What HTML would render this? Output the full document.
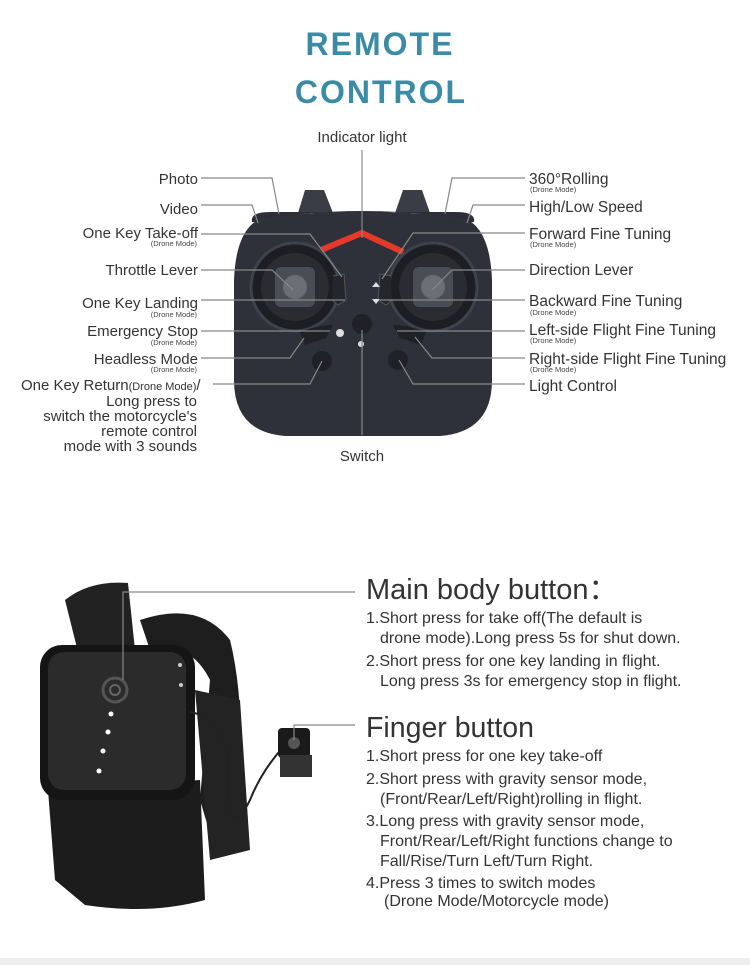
<!DOCTYPE html>
<html><head><meta charset="utf-8"><style>
html,body{margin:0;padding:0;background:#fff;}
svg{display:block;font-family:"Liberation Sans",Arial,sans-serif;}
</style></head><body>
<svg width="750" height="965" viewBox="0 0 750 965" xmlns="http://www.w3.org/2000/svg">
<rect width="750" height="965" fill="#fff"/>
<text x="380" y="55" text-anchor="middle" font-size="32" font-weight="bold" fill="#3b8ba6" letter-spacing="2">REMOTE</text>
<text x="381" y="103" text-anchor="middle" font-size="32" font-weight="bold" fill="#3b8ba6" letter-spacing="2">CONTROL</text>

<path d="M298 213 L305 190 L324 190 L333 213 Z" fill="#3a3d45"/>
<path d="M395 213 L403 190 L422 190 L430 213 Z" fill="#3a3d45"/>
<path d="M270 212 Q250 212 252 222 L259 222 Q300 211 362 211 Q425 211 466 222 L474 222 Q476 212 456 212 Z" fill="#2c2f36"/>
<path d="M262 218 Q362 205 464 218 Q490 228 492 280 L492 380 Q492 432 440 436 L285 436 Q234 432 234 380 L234 280 Q236 228 262 218 Z" fill="#2e3139"/>
<path d="M321 250 L362 233 L403 252" fill="none" stroke="#e5392a" stroke-width="6"/>
<circle cx="295" cy="287" r="44" fill="#1c1e23" stroke="#3e424b" stroke-width="3"/>
<circle cx="295" cy="287" r="34" fill="#2a2c31"/>
<rect x="275" y="267" width="40" height="40" rx="6" fill="#4a4d54"/>
<circle cx="295" cy="287" r="12" fill="#6b6e75"/>
<circle cx="433" cy="287" r="44" fill="#1c1e23" stroke="#3e424b" stroke-width="3"/>
<circle cx="433" cy="287" r="34" fill="#2a2c31"/>
<rect x="413" y="267" width="40" height="40" rx="6" fill="#4a4d54"/>
<circle cx="433" cy="287" r="12" fill="#6b6e75"/>
<path d="M333 276 L344 274 L346 300 L338 305 L332 300" fill="#24262b" stroke="#555" stroke-width="1"/>
<path d="M391 276 L380 274 L378 300 L386 305 L392 300" fill="#24262b" stroke="#555" stroke-width="1"/>
<circle cx="362" cy="324" r="10" fill="#1f2126"/>
<circle cx="322" cy="361" r="10" fill="#1f2126"/>
<circle cx="398" cy="360" r="10" fill="#1f2126"/>
<path d="M300 332 Q318 325 333 325 L326 338 L305 345 Z" fill="#1f2126"/>
<path d="M426 332 Q408 325 393 325 L400 338 L421 345 Z" fill="#1f2126"/>
<circle cx="340" cy="333" r="4" fill="#ddd"/>
<circle cx="361" cy="344" r="3" fill="#ddd"/>
<path d="M372 287 l4 -5 l4 5z M372 299 l4 5 l4 -5z" fill="#ddd"/>

<g stroke="#888" stroke-width="1.2" fill="none">
<path d="M201 178 H272 L279 214"/>
<path d="M201 205 H252 L258 223"/>
<path d="M201 234 H310 L342 277"/>
<path d="M201 270 H272 L293 290"/>
<path d="M201 300 H345"/>
<path d="M201 331 H330"/>
<path d="M201 358 H290 L304 338"/>
<path d="M213 384 H310 L322 361"/>
<path d="M525 178 H452 L445 214"/>
<path d="M525 205 H473 L467 223"/>
<path d="M525 233 H413 L382 279"/>
<path d="M525 270 H452 L432 290"/>
<path d="M525 300 H380"/>
<path d="M525 331 H397"/>
<path d="M525 358 H432 L415 337"/>
<path d="M525 384 H413 L399 360"/>
<path d="M362 150 V238"/>
<path d="M362 330 V435"/>
</g>

<g font-size="15" fill="#333">
<text x="362" y="142" text-anchor="middle">Indicator light</text>
<text x="362" y="461" text-anchor="middle">Switch</text>
<g text-anchor="end">
<text x="198" y="184">Photo</text>
<text x="198" y="214">Video</text>
<text x="198" y="238">One Key Take-off</text>
<text x="198" y="275">Throttle Lever</text>
<text x="198" y="308">One Key Landing</text>
<text x="198" y="336">Emergency Stop</text>
<text x="198" y="364">Headless Mode</text>
<text x="197" y="406">Long press to</text>
<text x="197" y="421">switch the motorcycle's</text>
<text x="197" y="436">remote control</text>
<text x="197" y="451">mode with 3 sounds</text>
</g>
<text x="21" y="390">One Key Return<tspan font-size="11">(Drone Mode)</tspan>/</text>
<g font-size="15.5">
<text x="529" y="184">360°Rolling</text>
<text x="529" y="212">High/Low Speed</text>
<text x="529" y="239">Forward Fine Tuning</text>
<text x="529" y="275">Direction Lever</text>
<text x="529" y="306">Backward Fine Tuning</text>
<text x="529" y="335">Left-side Flight Fine Tuning</text>
<text x="529" y="364">Right-side Flight Fine Tuning</text>
<text x="529" y="391">Light Control</text>
</g>
</g>
<g font-size="7.5" fill="#444">
<text x="197" y="246" text-anchor="end">(Drone Mode)</text>
<text x="197" y="317" text-anchor="end">(Drone Mode)</text>
<text x="197" y="345" text-anchor="end">(Drone Mode)</text>
<text x="197" y="372" text-anchor="end">(Drone Mode)</text>
<text x="530" y="192">(Drone Mode)</text>
<text x="530" y="247">(Drone Mode)</text>
<text x="530" y="315">(Drone Mode)</text>
<text x="530" y="343">(Drone Mode)</text>
<text x="530" y="372">(Drone Mode)</text>
</g>

<path d="M140 620 Q200 600 230 640 Q245 700 240 800 L215 850 L200 800 L210 680 Q190 640 150 650 Z" fill="#1e1e1e"/>
<path d="M195 690 L240 700 L250 850 L210 860 Z" fill="#232323"/>
<path d="M65 600 Q90 580 128 583 L135 650 L80 660 Z" fill="#222"/>
<path d="M48 790 L200 780 L205 900 Q150 915 85 905 L55 880 Z" fill="#1c1c1c"/>
<rect x="40" y="645" width="155" height="155" rx="22" fill="#151515"/>
<rect x="48" y="652" width="138" height="138" rx="16" fill="#2b2b2b"/>
<circle cx="115" cy="690" r="12" fill="none" stroke="#555" stroke-width="3"/>
<circle cx="115" cy="690" r="5" fill="none" stroke="#666" stroke-width="2"/>
<g fill="#fff"><circle cx="111" cy="714" r="2.5"/><circle cx="108" cy="732" r="2.5"/><circle cx="103" cy="751" r="2.5"/><circle cx="99" cy="771" r="2.5"/></g>
<circle cx="180" cy="665" r="2" fill="#ccc"/><circle cx="181" cy="685" r="2" fill="#ccc"/>
<path d="M190 712 Q235 720 228 790 Q230 840 250 800 Q262 770 285 745" fill="none" stroke="#222" stroke-width="2"/>
<rect x="278" y="728" width="32" height="30" rx="4" fill="#1a1a1a"/>
<rect x="280" y="755" width="32" height="22" fill="#333"/>
<circle cx="294" cy="743" r="6" fill="#555"/>

<g stroke="#888" stroke-width="1.2" fill="none">
<path d="M123 680 V592 H355"/>
<path d="M294 740 V725 H355"/>
</g>
<g fill="#333">
<text x="366" y="599" font-size="29">Main body button：</text>
<text x="366" y="737" font-size="28.5">Finger button</text>
<g font-size="16">
<text x="366" y="623">1.Short press for take off(The default is</text>
<text x="380" y="643">drone mode).Long press 5s for shut down.</text>
<text x="366" y="666">2.Short press for one key landing in flight.</text>
<text x="380" y="686">Long press 3s for emergency stop in flight.</text>
<text x="366" y="761">1.Short press for one key take-off</text>
<text x="366" y="784">2.Short press with gravity sensor mode,</text>
<text x="380" y="804">(Front/Rear/Left/Right)rolling in flight.</text>
<text x="366" y="826">3.Long press with gravity sensor mode,</text>
<text x="380" y="846">Front/Rear/Left/Right functions change to</text>
<text x="380" y="866">Fall/Rise/Turn Left/Turn Right.</text>
<text x="366" y="888">4.Press 3 times to switch modes</text>
<text x="384" y="906">(Drone Mode/Motorcycle mode)</text>
</g></g>
<rect x="0" y="958" width="750" height="7" fill="#eee"/>
</svg>
</body></html>
